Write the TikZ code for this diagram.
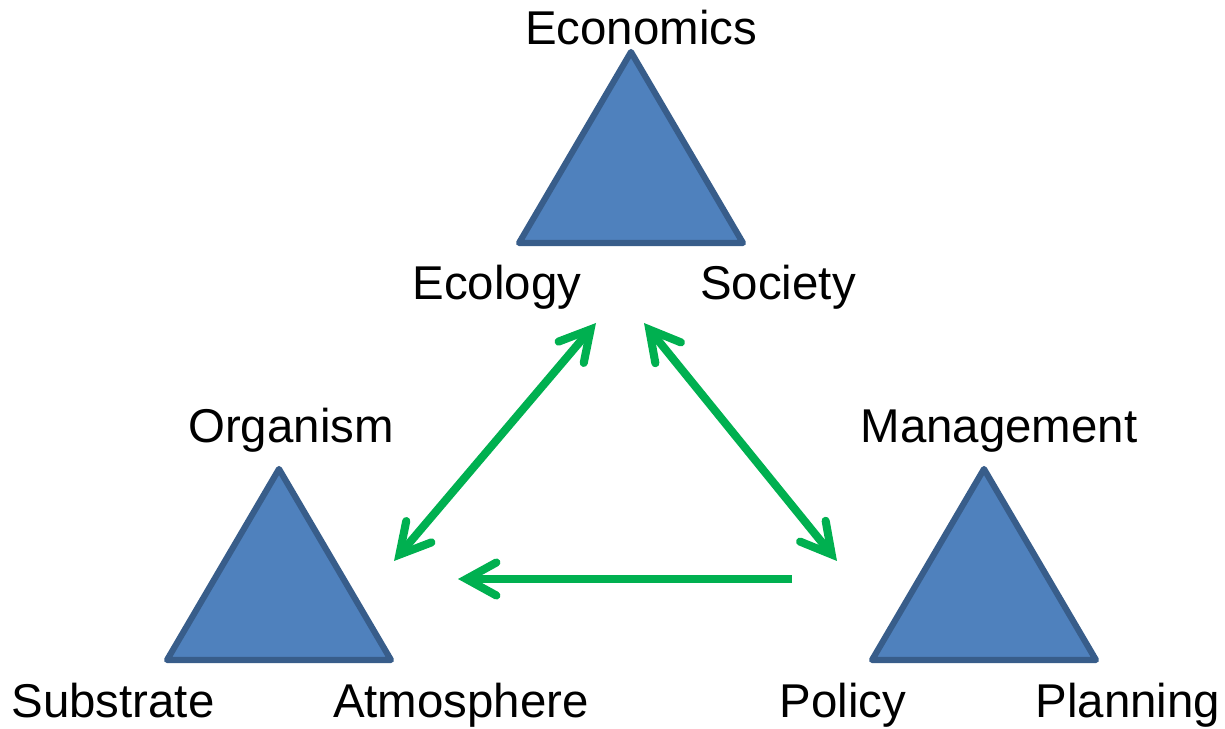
\documentclass[tikz,border=0pt]{standalone}
\usepackage{fontspec}
\setmainfont{Liberation Sans}
\usetikzlibrary{arrows.meta}

\definecolor{triblue}{HTML}{4F81BD}
\definecolor{triedge}{HTML}{385D8A}
\definecolor{linkgreen}{HTML}{00B050}

\tikzset{
  tri/.style={fill=triblue, draw=triedge, line width=3.5pt, line join=round},
  word/.style={anchor=base, inner sep=0pt, font=\fontsize{27}{32}\selectfont},
  barb/.tip={Straight Barb[length=0.6cm, width=0.66cm, line cap=round]},
  link/.style={draw=linkgreen, line width=4.6pt, arrows={barb-barb}},
}

\begin{document}
\begin{tikzpicture}[x=0.02cm, y=-0.02cm]
\useasboundingbox (0,0) rectangle (1225,729);

% three triangles
\filldraw[tri] (631,52) -- (743,243) -- (519,243) -- cycle;
\filldraw[tri] (279,469) -- (391,660) -- (167,660) -- cycle;
\filldraw[tri] (984,469) -- (1096,660) -- (872,660) -- cycle;

% labels of the top triangle
\node[word] (economics) at (641,45) {Economics};
\node[word] (ecology) at (497,300) {Ecology};
\node[word] (society) at (778,300) {Society};

% labels of the left triangle
\node[word] (organism) at (291,443) {Organism};
\node[word] (substrate) at (113,718) {Substrate};
\node[word] (atmosphere) at (461,718) {Atmosphere};

% labels of the right triangle
\node[word] (management) at (999,443) {Management};
\node[word] (policy) at (843,718) {Policy};
\node[word] (planning) at (1128,718) {Planning};

% arrow ends
\coordinate (topL) at (596,323);
\coordinate (topR) at (644,323);
\coordinate (leftE) at (394,561);
\coordinate (rightE) at (837,561);
\coordinate (rightB) at (792,579);
\coordinate (leftB) at (458,579);

% green links
\draw[link] (leftE) -- (topL);
\draw[link] (topR) -- (rightE);
\draw[link, arrows={-barb}] (rightB) -- (leftB);

\end{tikzpicture}
\end{document}
